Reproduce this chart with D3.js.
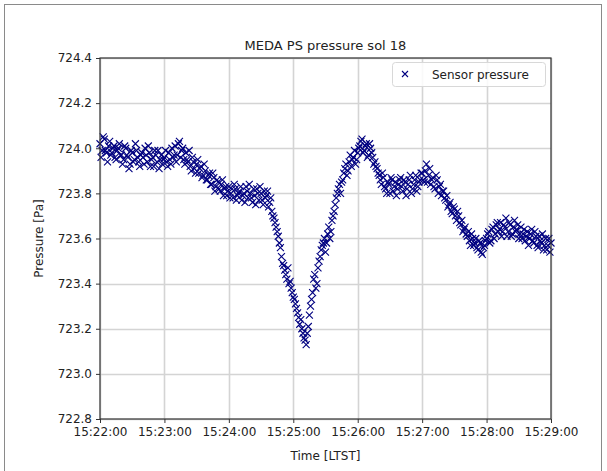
<!DOCTYPE html>
<html>
<head>
<meta charset="utf-8">
<script src="https://cdn.jsdelivr.net/npm/d3@7"></script>
<style>
  body { margin: 0; background: #fff; }
  text { font-family: "DejaVu Sans", sans-serif; fill: #222; }
</style>
</head>
<body>
<script>
// sample times: seconds after 15:22:00, one reading per second
var startTime = new Date(2021, 2, 8, 15, 22, 0);

// pressure readings [Pa] at even seconds (0, 2, ... 420)
var pressureEven = [
  724.02, 723.99, 724.04, 723.98, 724.01, 723.97, 724.00, 723.96, 723.99, 724.02,
  723.97, 723.95, 724.00, 723.96, 723.93, 723.98, 723.95, 723.99, 723.94, 723.97,
  723.96, 724.00, 723.94, 723.98, 723.95, 723.92, 723.97, 723.99, 723.95, 723.93,
  723.96, 723.94, 723.98, 723.93, 723.96, 724.01, 723.97, 724.03, 723.99, 723.95,
  723.98, 723.94, 723.92, 723.96, 723.91, 723.93, 723.89, 723.92, 723.88, 723.90,
  723.86, 723.89, 723.84, 723.87, 723.83, 723.85, 723.81, 723.86, 723.82, 723.79,
  723.83, 723.80, 723.78, 723.82, 723.79, 723.81, 723.77, 723.80, 723.83, 723.78,
  723.80, 723.76, 723.79, 723.82, 723.77, 723.80, 723.75, 723.78, 723.81, 723.76,
  723.72, 723.69, 723.65, 723.61, 723.56, 723.49, 723.46, 723.42, 723.40, 723.38,
  723.34, 723.31, 723.27, 723.22, 723.20, 723.16, 723.13, 723.21, 723.30, 723.36,
  723.44, 723.40, 723.50, 723.55, 723.58, 723.54, 723.62, 723.60, 723.68, 723.72,
  723.78, 723.82, 723.80, 723.86, 723.91, 723.88, 723.94, 723.92, 723.96, 723.93,
  723.98, 724.01, 724.04, 723.99, 724.02, 723.97, 724.00, 723.96, 723.94, 723.91,
  723.88, 723.84, 723.87, 723.82, 723.85, 723.80, 723.86, 723.83, 723.79, 723.84,
  723.87, 723.81, 723.85, 723.82, 723.86, 723.80, 723.84, 723.88, 723.83, 723.86,
  723.89, 723.85, 723.93, 723.88, 723.84, 723.87, 723.82, 723.86, 723.83, 723.79,
  723.81, 723.77, 723.74, 723.76, 723.71, 723.73, 723.68, 723.70, 723.66, 723.63,
  723.65, 723.61, 723.59, 723.62, 723.57, 723.60, 723.55, 723.58, 723.53, 723.57,
  723.60, 723.63, 723.59, 723.65, 723.62, 723.67, 723.64, 723.61, 723.66, 723.69,
  723.63, 723.66, 723.62, 723.68, 723.64, 723.60, 723.65, 723.62, 723.59, 723.63,
  723.60, 723.64, 723.58, 723.61, 723.56, 723.59, 723.62, 723.57, 723.55, 723.60,
  723.58
];

// pressure readings [Pa] at odd seconds (1, 3, ... 419)
var pressureOdd = [
  723.96, 724.05, 723.99, 723.94, 724.03, 723.98, 724.01, 723.95, 724.00, 723.97,
  723.93, 724.01, 723.97, 723.91, 723.99, 723.94, 724.02, 723.96, 723.92, 723.98,
  723.93, 723.97, 724.01, 723.92, 723.96, 723.99, 723.94, 723.91, 723.97, 723.95,
  723.99, 723.92, 723.95, 724.00, 723.97, 723.94, 724.02, 723.96, 724.00, 723.93,
  723.95, 723.99, 723.90, 723.94, 723.89, 723.95, 723.91, 723.87, 723.93, 723.86,
  723.88, 723.84, 723.89, 723.81, 723.86, 723.82, 723.84, 723.79, 723.83, 723.81,
  723.78, 723.82, 723.84, 723.77, 723.80, 723.83, 723.79, 723.76, 723.81, 723.84,
  723.78, 723.82, 723.75, 723.80, 723.83, 723.77, 723.81, 723.79, 723.74, 723.78,
  723.70, 723.67, 723.63, 723.58, 723.52, 723.48, 723.44, 723.47, 723.41, 723.36,
  723.33, 723.29, 723.25, 723.24, 723.18, 723.15, 723.18, 723.26, 723.33, 723.42,
  723.38, 723.47, 723.52, 723.57, 723.60, 723.58, 723.65, 723.63, 723.70, 723.75,
  723.80, 723.84, 723.85, 723.89, 723.93, 723.90, 723.97, 723.95, 723.99, 723.95,
  724.00, 724.03, 723.98, 724.01, 723.96, 724.02, 723.98, 723.93, 723.92, 723.89,
  723.86, 723.89, 723.83, 723.80, 723.84, 723.87, 723.81, 723.85, 723.82, 723.86,
  723.83, 723.86, 723.79, 723.84, 723.88, 723.82, 723.86, 723.81, 723.85, 723.89,
  723.86, 723.90, 723.85, 723.91, 723.86, 723.83, 723.88, 723.80, 723.84, 723.81,
  723.78, 723.79, 723.75, 723.72, 723.74, 723.70, 723.72, 723.67, 723.68, 723.64,
  723.62, 723.63, 723.57, 723.60, 723.58, 723.56, 723.59, 723.54, 723.56, 723.59,
  723.62, 723.58, 723.64, 723.60, 723.66, 723.63, 723.67, 723.63, 723.65, 723.61,
  723.67, 723.61, 723.65, 723.63, 723.66, 723.62, 723.60, 723.64, 723.61, 723.57,
  723.62, 723.59, 723.63, 723.57, 723.61, 723.58, 723.55, 723.60, 723.57, 723.54
];

var yTicks = [722.8, 723.0, 723.2, 723.4, 723.6, 723.8, 724.0, 724.2, 724.4];
var xTickMinutes = [22, 23, 24, 25, 26, 27, 28, 29];

var chartTitle = "MEDA PS pressure sol 18";
var xTitle = "Time [LTST]";
var yTitle = "Pressure [Pa]";
var legendLabel = "Sensor pressure";

var points = [];
pressureEven.forEach(function(p, i) {
  points.push({time: new Date(startTime.getTime() + i * 2000), value: p});
});
pressureOdd.forEach(function(p, i) {
  points.push({time: new Date(startTime.getTime() + (i * 2 + 1) * 1000), value: p});
});

//board
var width = 607, height = 471;
var plot = {left: 100, right: 551, top: 58, bottom: 419};

var svg = d3.select("body").append("svg")
  .attr("width", width)
  .attr("height", height);

// outer frame of the figure
svg.append("rect")
  .attr("x", 4.5).attr("y", 4.5)
  .attr("width", 597).attr("height", 490)
  .attr("fill", "none")
  .attr("stroke", "#8a8a8a");

var x = d3.scaleTime()
  .domain([new Date(2021, 2, 8, 15, 22, 0), new Date(2021, 2, 8, 15, 29, 0)])
  .range([plot.left, plot.right]);

var y = d3.scaleLinear()
  .domain([722.8, 724.4])
  .range([plot.bottom, plot.top]);

var xTicks = xTickMinutes.map(function(m) { return new Date(2021, 2, 8, 15, m, 0); });

//grid
svg.append("g").selectAll("line").data(xTicks)
  .enter().append("line")
  .attr("x1", function(d) { return Math.round(x(d)) + 0.5; })
  .attr("x2", function(d) { return Math.round(x(d)) + 0.5; })
  .attr("y1", plot.top).attr("y2", plot.bottom)
  .attr("stroke", "#d4d4d4").attr("stroke-width", 1.6);

svg.append("g").selectAll("line").data(yTicks)
  .enter().append("line")
  .attr("y1", function(d) { return Math.round(y(d)) + 0.5; })
  .attr("y2", function(d) { return Math.round(y(d)) + 0.5; })
  .attr("x1", plot.left).attr("x2", plot.right)
  .attr("stroke", "#d4d4d4").attr("stroke-width", 1.6);

//axes
var xAxis = d3.axisBottom(x)
  .tickValues(xTicks)
  .tickFormat(d3.timeFormat("%H:%M:%S"))
  .tickSize(4).tickPadding(4);

var yAxis = d3.axisLeft(y)
  .tickValues(yTicks)
  .tickFormat(d3.format(".1f"))
  .tickSize(4).tickPadding(4);

var gx = svg.append("g")
  .attr("transform", "translate(0," + plot.bottom + ")")
  .call(xAxis);
var gy = svg.append("g")
  .attr("transform", "translate(" + plot.left + ",0)")
  .call(yAxis);

[gx, gy].forEach(function(g) {
  g.select(".domain").remove();
  g.selectAll(".tick line").attr("stroke", "#333");
  g.selectAll(".tick text")
    .attr("fill", "#333")
    .style("font-family", "DejaVu Sans")
    .style("font-size", "12px");
});

//points
var half = 3.5;
svg.append("g").selectAll("path").data(points)
  .enter().append("path")
  .attr("d", function(d) {
    var cx = x(d.time), cy = y(d.value);
    return "M" + (cx - half) + "," + (cy - half) + "L" + (cx + half) + "," + (cy + half) +
      "M" + (cx - half) + "," + (cy + half) + "L" + (cx + half) + "," + (cy - half);
  })
  .attr("stroke", "#000080")
  .attr("stroke-width", 1.1)
  .attr("fill", "none");

// frame of the axes
svg.append("rect")
  .attr("x", plot.left).attr("y", plot.top)
  .attr("width", plot.right - plot.left).attr("height", plot.bottom - plot.top)
  .attr("fill", "none")
  .attr("stroke", "#333")
  .attr("stroke-width", 1.2);

//legend
var legend = svg.append("g");
legend.append("rect")
  .attr("x", 392.5).attr("y", 62.5)
  .attr("width", 153).attr("height", 24)
  .attr("rx", 3)
  .attr("fill", "#fff").attr("fill-opacity", 0.85)
  .attr("stroke", "#d8d8d8");
legend.append("path")
  .attr("d", "M402,71L408,77M402,77L408,71")
  .attr("stroke", "#000080").attr("stroke-width", 1.1);
legend.append("text")
  .attr("x", 432).attr("y", 78.5)
  .style("font-size", "12px")
  .text(legendLabel);

//titles
svg.append("text")
  .attr("x", (plot.left + plot.right) / 2).attr("y", 50)
  .attr("text-anchor", "middle")
  .style("font-size", "13px")
  .text(chartTitle);

svg.append("text")
  .attr("x", (plot.left + plot.right) / 2).attr("y", 460)
  .attr("text-anchor", "middle")
  .style("font-size", "12px")
  .text(xTitle);

svg.append("text")
  .attr("transform", "translate(43," + (plot.top + plot.bottom) / 2 + ") rotate(-90)")
  .attr("text-anchor", "middle")
  .style("font-size", "12px")
  .text(yTitle);
</script>
</body>
</html>
